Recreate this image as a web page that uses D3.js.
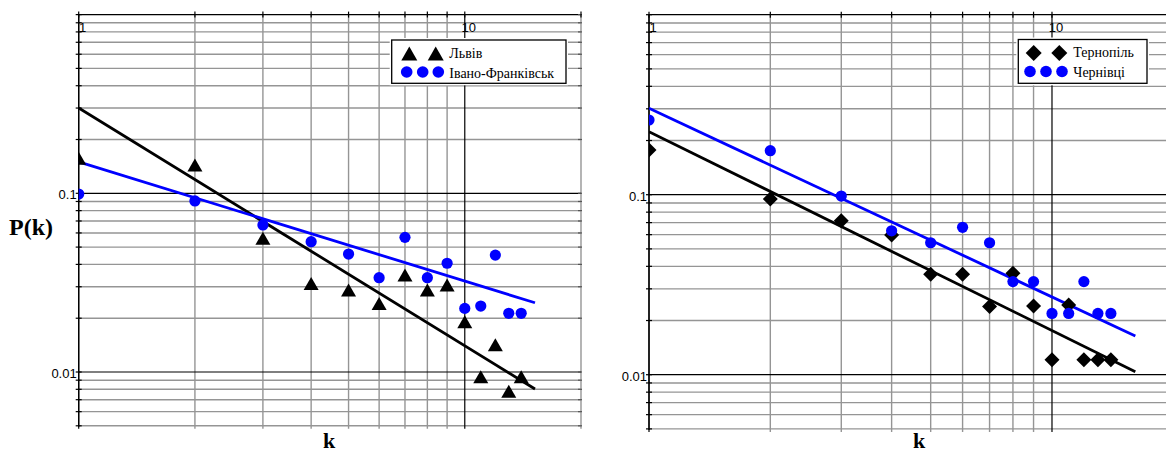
<!DOCTYPE html>
<html>
<head>
<meta charset="utf-8">
<script src="https://cdn.jsdelivr.net/npm/d3@7"></script>
<style>
  html, body { margin: 0; padding: 0; background: #fff; }
  svg { display: block; }
</style>
</head>
<body>
<svg id="chart" width="1166" height="454"></svg>
<script>
// ---------------- DATA ----------------
const kValues = [1, 2, 3, 4, 5, 6, 7, 8, 9, 10, 11, 12, 13, 14];

// left panel
const lvivP = [0.157, 0.144, 0.056, 0.0313, 0.0288, 0.0242, 0.0349, 0.0288, 0.0307, 0.0191, 0.0094, 0.0142, 0.0078, 0.0094];
const ivanoP = [0.099, 0.0906, 0.0665, 0.0536, 0.0457, 0.0337, 0.0567, 0.0337, 0.0406, 0.0227, 0.0234, 0.0451, 0.0213, 0.0213];
const lvivFitK = [1, 15.2];
const lvivFitP = [0.300, 0.00803];
const ivanoFitK = [1, 15.2];
const ivanoFitP = [0.150, 0.0244];

// right panel
const ternopilP = [0.177, 0.0947, 0.0717, 0.0597, 0.0362, 0.0362, 0.0239, 0.0366, 0.0241, 0.0121, 0.0244, 0.0121, 0.0121, 0.0121];
const chernivtsiP = [0.26, 0.1756, 0.0983, 0.063, 0.0541, 0.0659, 0.0541, 0.0329, 0.0329, 0.0219, 0.0219, 0.0329, 0.0219, 0.0219];
const ternopilFitK = [1, 16.1];
const ternopilFitP = [0.224, 0.0104];
const chernivtsiFitK = [1, 16.1];
const chernivtsiFitP = [0.302, 0.0164];

const xDomain = [1, 20];
const yDomain = [0.005, 1];
const xTickLabels = [1, 10];
const yTickLabels = [0.1, 0.01];
const yAxisTitle = "P(k)";
const xAxisTitle = "k";

const leftLegend = ["Львів", "Івано-Франківськ"];
const rightLegend = ["Тернопіль", "Чернівці"];

// ---------------- LAYOUT ----------------
const svg = d3.select("#chart");
const BLUE = "#0000ff";
const GRID = "#959595";

function triPath(s) { // bbox-centered upward triangle
  const w = s, h = s * 0.87;
  return `M0,${-h/2}L${w/2},${h/2}L${-w/2},${h/2}Z`;
}
function diaPath(s) {
  const r = s / 2;
  return `M0,${-r}L${r},0L0,${r}L${-r},0Z`;
}

function drawPanel(cfg) {
  const x = d3.scaleLog().domain(xDomain).range([cfg.x0, cfg.x1]);
  const y = d3.scaleLog().domain(yDomain).range([cfg.y1, cfg.y0]);
  const g = svg.append("g");
  const clipId = "clip" + cfg.id;
  svg.append("clipPath").attr("id", clipId).append("rect")
    .attr("x", cfg.x0).attr("y", cfg.y0)
    .attr("width", cfg.x1 - cfg.x0).attr("height", cfg.y1 - cfg.y0);

  const xt = x.ticks();
  const yt = y.ticks();
  const isDecade = v => Math.abs(Math.log10(v) - Math.round(Math.log10(v))) < 1e-9;

  // minor grid
  const grid = g.append("g");
  grid.selectAll(".vx").data(xt.filter(v => !isDecade(v))).enter().append("line")
    .attr("x1", d => x(d)).attr("x2", d => x(d))
    .attr("y1", cfg.y0).attr("y2", cfg.y1 + 3)
    .attr("stroke", GRID).attr("stroke-width", 1.4);
  grid.selectAll(".hy").data(yt.filter(v => !isDecade(v))).enter().append("line")
    .attr("y1", d => y(d)).attr("y2", d => y(d))
    .attr("x1", cfg.x0).attr("x2", cfg.x1)
    .attr("stroke", GRID).attr("stroke-width", 1.4);
  // major grid
  grid.selectAll(".vxm").data(xt.filter(isDecade)).enter().append("line")
    .attr("x1", d => x(d)).attr("x2", d => x(d))
    .attr("y1", cfg.y0).attr("y2", cfg.y1 + 3)
    .attr("stroke", "#000").attr("stroke-width", 1.2);
  grid.selectAll(".hym").data(yt.filter(isDecade)).enter().append("line")
    .attr("y1", d => y(d)).attr("y2", d => y(d))
    .attr("x1", cfg.x0).attr("x2", cfg.x1)
    .attr("stroke", "#000").attr("stroke-width", 1.2);

  // tick marks on left axis, top, right
  g.selectAll(".tl").data(yt).enter().append("line")
    .attr("x1", cfg.x0 - 3).attr("x2", cfg.x0 + 3)
    .attr("y1", d => y(d)).attr("y2", d => y(d))
    .attr("stroke", "#000").attr("stroke-width", 1.2);
  g.selectAll(".tr").data(yt).enter().append("line")
    .attr("x1", cfg.x1 - 3).attr("x2", cfg.x1 + 1)
    .attr("y1", d => y(d)).attr("y2", d => y(d))
    .attr("stroke", "#555").attr("stroke-width", 1.2);
  g.selectAll(".tt").data(xt).enter().append("line")
    .attr("y1", cfg.y0 - 3).attr("y2", cfg.y0 + 3)
    .attr("x1", d => x(d)).attr("x2", d => x(d))
    .attr("stroke", "#000").attr("stroke-width", 1.2);
  // left axis line
  g.append("line").attr("x1", cfg.x0).attr("x2", cfg.x0)
    .attr("y1", cfg.y0).attr("y2", cfg.y1 + 1)
    .attr("stroke", "#000").attr("stroke-width", 1.3);

  // tick labels
  g.selectAll(".xl").data(xTickLabels).enter().append("text")
    .attr("x", d => x(d) + 4).attr("y", cfg.y0 + 17)
    .attr("text-anchor", "middle")
    .attr("font-family", "'Liberation Sans Narrow', 'Liberation Sans', Arial, sans-serif")
    .attr("font-size", 13).attr("fill", "#000")
    .text(d => d3.format("")(d));
  g.selectAll(".yl").data(yTickLabels).enter().append("text")
    .attr("x", cfg.x0 - 2).attr("y", d => y(d) + 6)
    .attr("text-anchor", "end")
    .attr("font-family", "'Liberation Sans Narrow', 'Liberation Sans', Arial, sans-serif")
    .attr("font-size", 13).attr("fill", "#000")
    .text(d => String(d));

  // axis titles
  if (cfg.yTitle) {
    svg.append("text").attr("x", 9).attr("y", 235)
      .attr("font-family", "'Liberation Serif', 'Times New Roman', serif")
      .attr("font-weight", "bold").attr("font-size", 24)
      .text(yAxisTitle);
  }
  svg.append("text").attr("x", cfg.kx).attr("y", 448)
    .attr("text-anchor", "middle")
    .attr("font-family", "'Liberation Serif', 'Times New Roman', serif")
    .attr("font-weight", "bold").attr("font-size", 22)
    .text(xAxisTitle);

  // fit lines and points (clipped)
  const plot = g.append("g").attr("clip-path", `url(#${clipId})`);
  const line = d3.line().x(d => x(d[0])).y(d => y(d[1]));
  cfg.fits.forEach(f => {
    plot.append("path")
      .datum(d3.zip(f.k, f.p))
      .attr("d", line)
      .attr("fill", "none").attr("stroke", f.color).attr("stroke-width", 2.8);
  });
  cfg.series.forEach(s => {
    const pts = d3.zip(kValues, s.p);
    if (s.shape === "circle") {
      plot.selectAll(null).data(pts).enter().append("circle")
        .attr("cx", d => x(d[0])).attr("cy", d => y(d[1])).attr("r", 5.6)
        .attr("fill", s.color);
    } else {
      plot.selectAll(null).data(pts).enter().append("path")
        .attr("transform", d => `translate(${x(d[0])},${y(d[1])})`)
        .attr("d", s.shape === "tri" ? triPath(15) : diaPath(15))
        .attr("fill", s.color);
    }
  });

  // legend
  const L = cfg.legend;
  svg.append("rect").attr("x", L.x - 2).attr("y", L.y - 2)
    .attr("width", L.w + 4).attr("height", L.h + 4).attr("fill", "#fff");
  svg.append("rect").attr("x", L.x).attr("y", L.y)
    .attr("width", L.w).attr("height", L.h)
    .attr("fill", "#fff").attr("stroke", "#000").attr("stroke-width", 1.3);
  const s0 = cfg.series[0], s1 = cfg.series[1];
  L.m0.forEach(mx => {
    svg.append("path").attr("transform", `translate(${mx},${L.y + 13.5})`)
      .attr("d", s0.shape === "tri" ? triPath(16) : diaPath(16))
      .attr("fill", s0.color);
  });
  L.m1.forEach(mx => {
    svg.append("circle").attr("cx", mx).attr("cy", L.y + 32).attr("r", 5.8)
      .attr("fill", s1.color);
  });
  cfg.legendLabels.forEach((t, i) => {
    svg.append("text").attr("x", L.tx).attr("y", L.y + 17.5 + i * 20)
      .attr("font-family", "'Liberation Serif', 'Times New Roman', serif")
      .attr("font-size", 14).attr("fill", "#000")
      .text(t);
  });
}

drawPanel({
  id: "L", x0: 78.7, x1: 581, y0: 14.6, y1: 425.8, yTitle: true, kx: 329,
  series: [{ p: lvivP, shape: "tri", color: "#000" }, { p: ivanoP, shape: "circle", color: BLUE }],
  fits: [{ k: lvivFitK, p: lvivFitP, color: "#000" }, { k: ivanoFitK, p: ivanoFitP, color: BLUE }],
  legend: { x: 391.7, y: 40, w: 174.3, h: 43.3, m0: [409.3, 435.7], m1: [406.7, 422.7, 438.3], tx: 449.3 },
  legendLabels: leftLegend
});

drawPanel({
  id: "R", x0: 649, x1: 1173.3, y0: 14.7, y1: 428.9, yTitle: false, kx: 919,
  series: [{ p: ternopilP, shape: "dia", color: "#000" }, { p: chernivtsiP, shape: "circle", color: BLUE }],
  fits: [{ k: ternopilFitK, p: ternopilFitP, color: "#000" }, { k: chernivtsiFitK, p: chernivtsiFitP, color: BLUE }],
  legend: { x: 1018.3, y: 39.5, w: 128.7, h: 43.8, m0: [1033.7, 1059.3], m1: [1030, 1046, 1062], tx: 1073.3 },
  legendLabels: rightLegend
});
</script>
</body>
</html>
